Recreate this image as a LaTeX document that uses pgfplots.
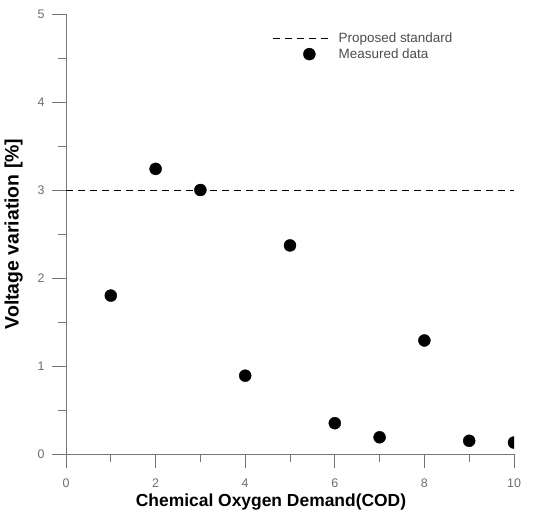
\documentclass[border=0pt]{standalone}
\usepackage{pgfplots}
\pgfplotsset{compat=1.18}
\usepackage{fontspec}
\setmainfont{Liberation Sans}
\definecolor{axgray}{RGB}{120,120,120}
\definecolor{lblgray}{RGB}{110,110,110}
\begin{document}
\begin{tikzpicture}
\begin{axis}[
  scale only axis,
  width=448bp, height=440bp,
  xmin=0, xmax=10, ymin=0, ymax=5,
  axis lines*=left,
  axis line style={axgray, line width=0.8pt},
  tick align=outside,
  major tick length=14bp, minor tick length=8bp,
  every tick/.style={black!55, line width=0.8pt},
  xtick distance=2, ytick distance=1,
  minor x tick num=1, minor y tick num=1,
  /pgf/number format/assume math mode=true,
  tick label style={font=\fontsize{12.5}{14}\selectfont, text=lblgray},
  xticklabel style={yshift=-7bp},
  yticklabel style={xshift=-4bp},
  xlabel={\textbf{Chemical Oxygen Demand(COD)}},
  ylabel={\textbf{Voltage variation [\%]}},
  xlabel style={font=\fontsize{17.5}{20}\selectfont, yshift=0bp, xshift=-19bp},
  ylabel style={font=\fontsize{19.5}{22}\selectfont, yshift=8bp},
  legend style={draw=none, fill=none, at={(axis cs:4.55,4.84)}, anchor=north west,
    font=\fontsize{13.5}{15}\selectfont, text=lblgray!70!black, row sep=1bp},
  legend cell align=left,
]
\addplot[black, line width=0.7pt, dash pattern=on 7bp off 5bp,
  legend image code/.code={\draw[black, line width=0.7pt, dash pattern=on 7bp off 5bp] (0bp,0bp) -- (57bp,0bp); \path (63bp,0bp);}]
  coordinates {(0,3) (10,3)};
\addlegendentry{Proposed standard}
\addplot[only marks, mark=*, mark size=6bp, black, clip mode=individual,
  legend image code/.code={\fill[black] (36bp,0bp) circle (6bp); \path (63bp,0bp);}]
  coordinates {(1,1.80) (2,3.24) (3,3.00) (4,0.89) (5,2.37) (6,0.35) (7,0.19) (8,1.29) (9,0.15) (10,0.13)};
\addlegendentry{Measured data}
\coordinate (o) at (rel axis cs:0,0);
\end{axis}
\pgfresetboundingbox
\path (o) ++(-66bp,-59bp) rectangle ++(536bp,513bp);
\end{tikzpicture}
\end{document}
